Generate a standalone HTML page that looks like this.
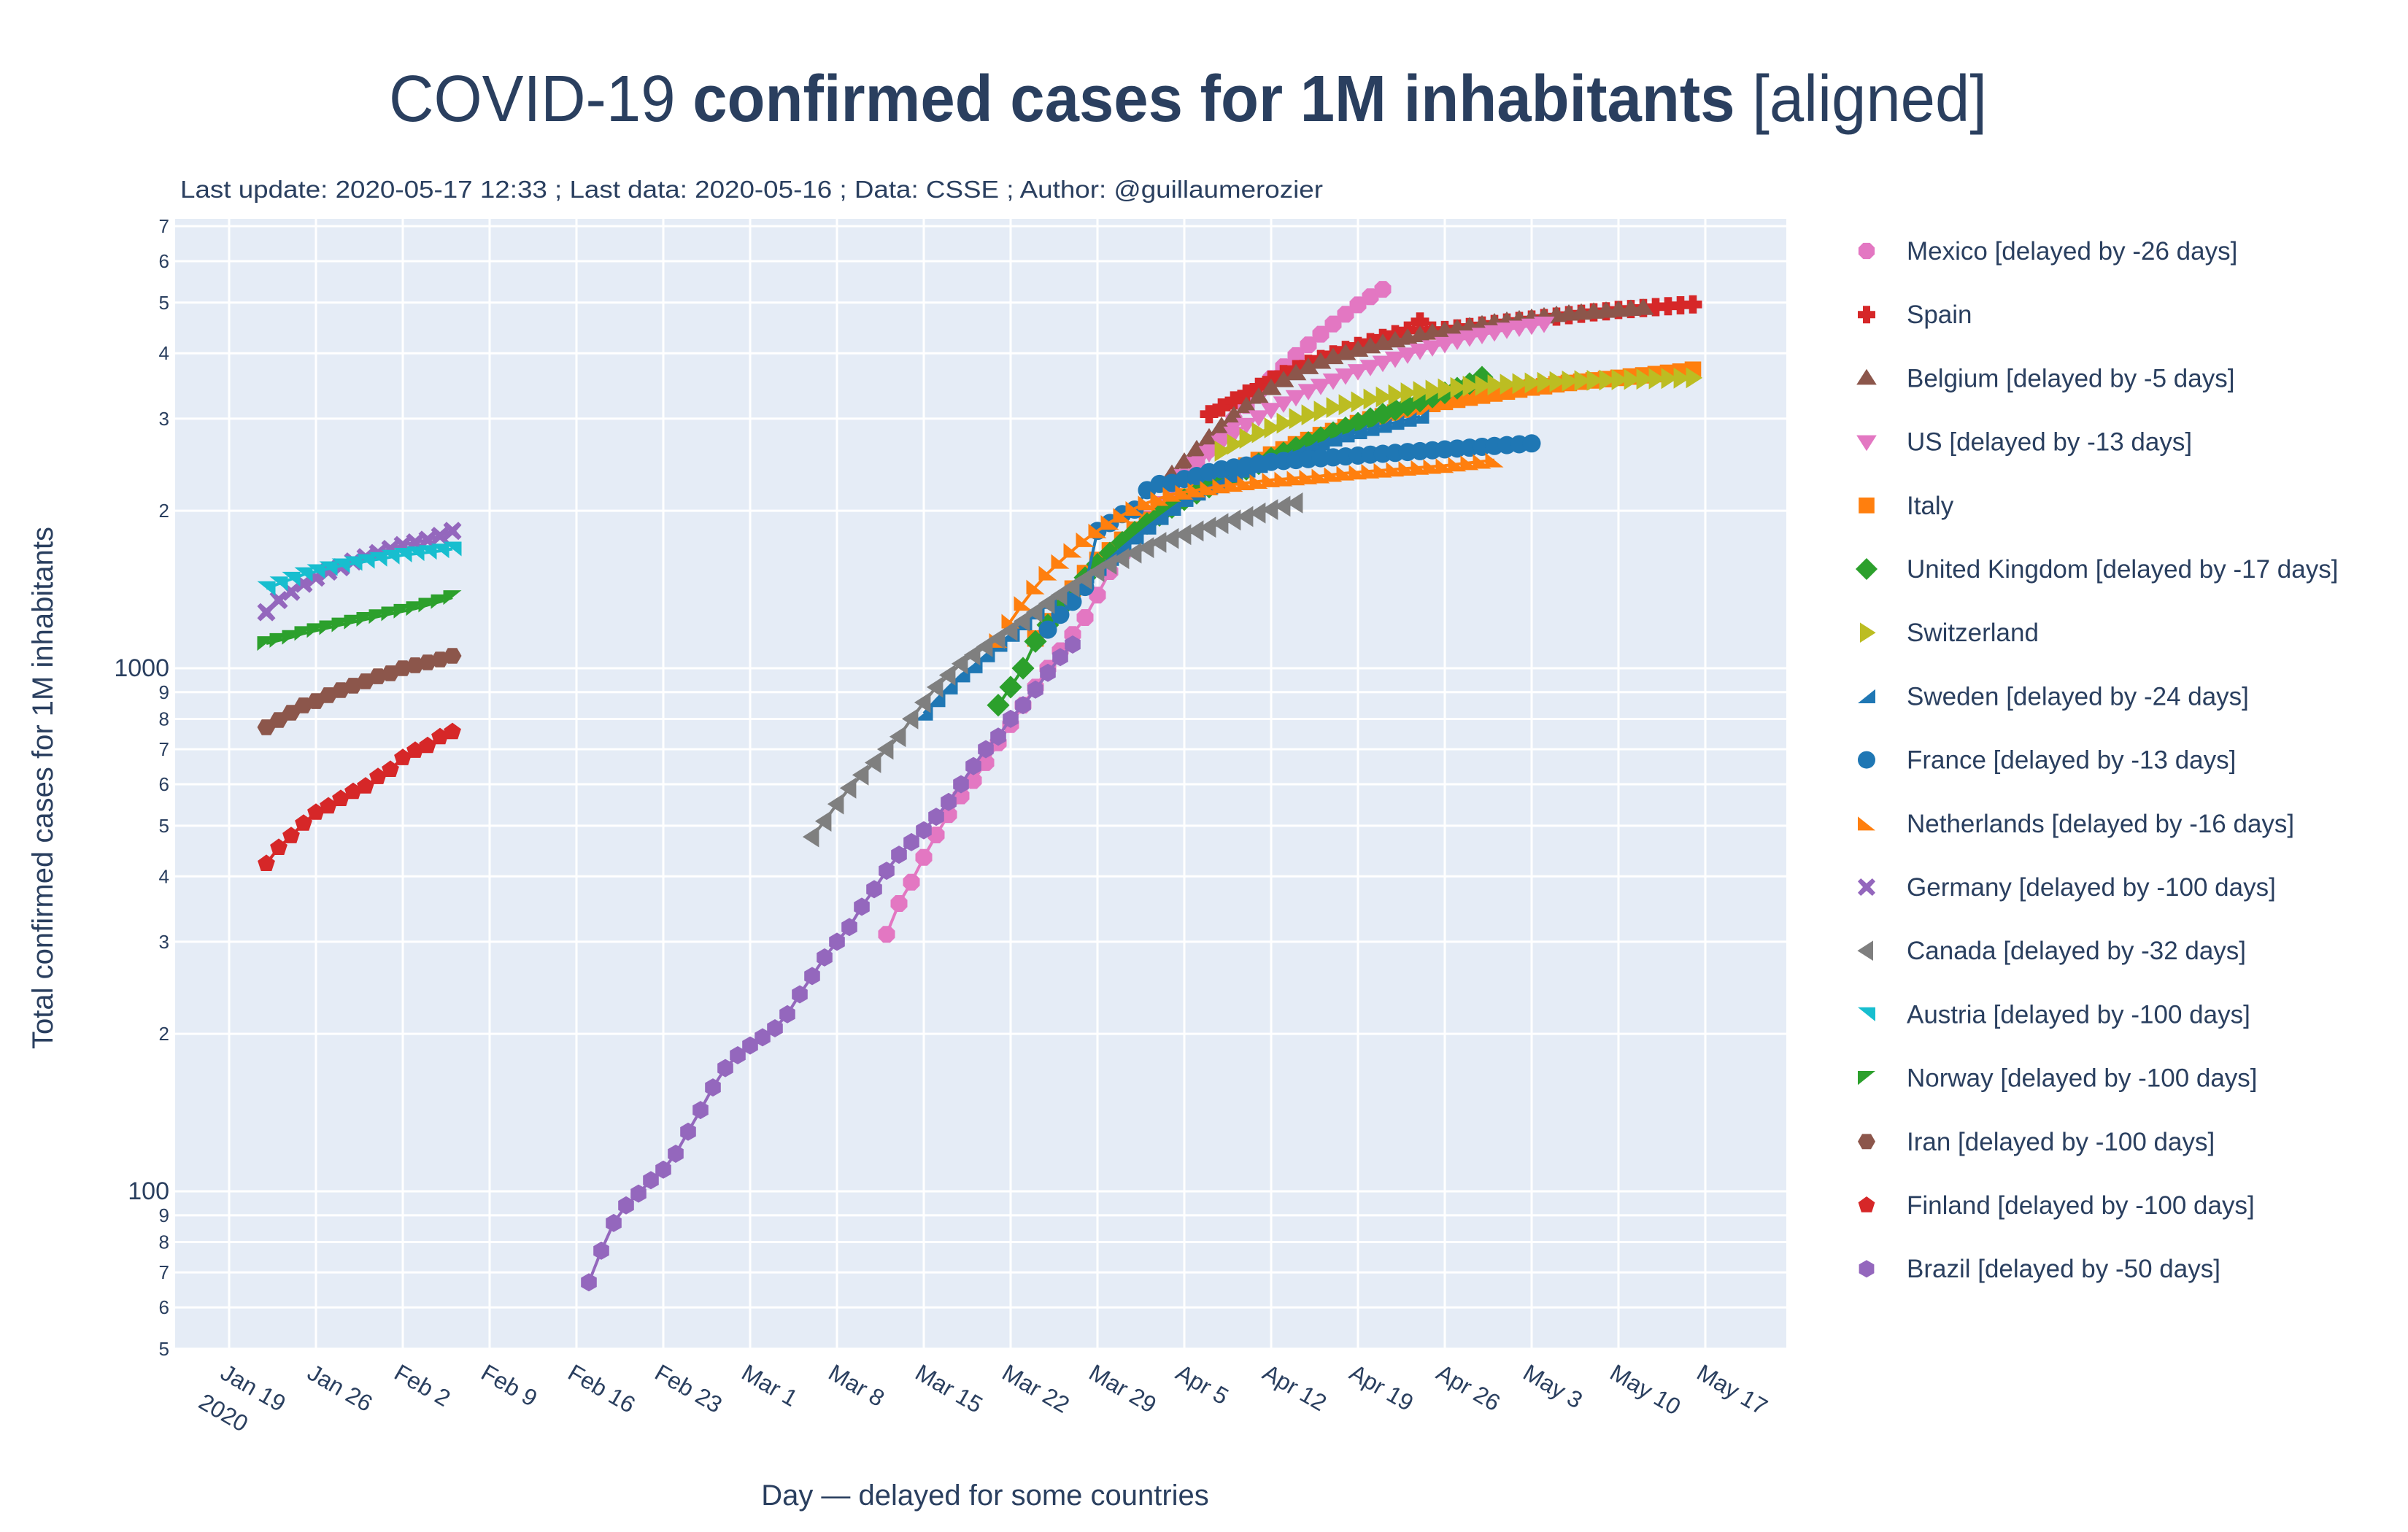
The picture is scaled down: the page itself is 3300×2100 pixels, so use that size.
<!DOCTYPE html>
<html><head><meta charset="utf-8"><title>COVID-19 confirmed cases for 1M inhabitants</title>
<style>
html,body{margin:0;padding:0;background:#fff;}
svg{display:block;font-family:"Liberation Sans",sans-serif;}
</style></head>
<body>
<svg id="chart" width="3300" height="2100" viewBox="0 0 3300 2100" xmlns="http://www.w3.org/2000/svg">
  <rect x="0" y="0" width="3300" height="2100" fill="#ffffff"/>
  <text x="1628" y="166" text-anchor="middle" font-size="90" fill="#2a3f5f" textLength="2190" lengthAdjust="spacingAndGlyphs">COVID-19 <tspan font-weight="bold">confirmed cases for 1M inhabitants</tspan> [aligned]</text>
  <text x="247" y="271" font-size="33" fill="#2a3f5f" textLength="1566" lengthAdjust="spacingAndGlyphs">Last update: 2020-05-17 12:33 ; Last data: 2020-05-16 ; Data: CSSE ; Author: @guillaumerozier</text>
  <rect x="240" y="300" width="2208" height="1550" fill="#e5ecf6"/>
  <g id="grid"></g>
  <g id="yticks"></g>
  <g id="xticks"></g>
  <defs><clipPath id="clip"><rect x="240" y="300" width="2208" height="1550"/></clipPath></defs>
  <g id="series" clip-path="url(#clip)"></g>
  <text transform="translate(72,1080) rotate(-90)" text-anchor="middle" font-size="40" fill="#2a3f5f">Total confirmed cases  for 1M inhabitants</text>
  <text x="1350" y="2063" text-anchor="middle" font-size="40" fill="#2a3f5f">Day — delayed for some countries</text>
  <g id="legend"></g>
</svg>
<script>
// ---------- data ----------
const countryNames = ["Mexico [delayed by -26 days]","Spain","Belgium [delayed by -5 days]","US [delayed by -13 days]","Italy","United Kingdom [delayed by -17 days]","Switzerland","Sweden [delayed by -24 days]","France [delayed by -13 days]","Netherlands [delayed by -16 days]","Germany [delayed by -100 days]","Canada [delayed by -32 days]","Austria [delayed by -100 days]","Norway [delayed by -100 days]","Iran [delayed by -100 days]","Finland [delayed by -100 days]","Brazil [delayed by -50 days]"];
const startDates = ["2020-03-12","2020-04-07","2020-04-04","2020-04-03","2020-03-24","2020-03-21","2020-04-08","2020-03-15","2020-03-25","2020-03-21","2020-01-22","2020-03-06","2020-01-22","2020-01-22","2020-01-22","2020-01-22","2020-02-17"];
const mexicoValues = [310,355,390,435,480,525,570,610,660,720,780,850,920,1000,1080,1160,1250,1380,1530,1650,1800,1930,2050,2180,2320,2470,2620,2800,2990,3180,3380,3580,3770,3960,4150,4350,4550,4750,4950,5130,5300];
const spainValues = [3060,3150,3250,3350,3450,3560,3650,3730,3820,3900,3980,4060,4130,4200,4280,4350,4420,4600,4420,4430,4460,4490,4520,4550,4580,4610,4640,4670,4700,4730,4760,4790,4810,4840,4860,4880,4900,4920,4940,4960];
const belgiumValues = [2350,2480,2620,2760,2900,3040,3170,3300,3430,3550,3660,3760,3850,3930,4000,4060,4120,4180,4230,4280,4330,4380,4420,4460,4500,4540,4580,4610,4640,4670,4700,4730,4760,4780,4800,4820,4840,4860,4880];
const usValues = [2070,2200,2330,2460,2580,2700,2810,2920,3020,3120,3210,3300,3390,3470,3550,3630,3700,3770,3840,3910,3980,4050,4110,4170,4230,4290,4340,4390,4440,4480,4520,4560];
const italyValues = [1140,1230,1320,1420,1520,1610,1680,1760,1840,1920,1990,2060,2130,2190,2250,2320,2380,2440,2500,2560,2620,2680,2730,2790,2840,2890,2940,2990,3030,3080,3120,3160,3200,3230,3260,3290,3320,3350,3380,3410,3440,3460,3490,3510,3530,3550,3570,3590,3610,3630,3650,3670,3690,3720];
const ukValues = [850,920,1000,1125,1210,1300,1400,1490,1580,1660,1740,1820,1890,1960,2030,2100,2160,2220,2280,2340,2400,2460,2520,2580,2640,2700,2760,2820,2880,2940,3000,3060,3120,3180,3240,3300,3360,3430,3500,3600];
const switzerlandValues = [2600,2680,2750,2820,2880,2940,3000,3050,3100,3150,3190,3230,3270,3300,3330,3360,3380,3400,3420,3440,3460,3470,3480,3490,3500,3510,3520,3530,3540,3545,3550,3555,3560,3565,3570,3575,3580,3585,3590];
const swedenValues = [820,870,920,970,1010,1060,1110,1160,1220,1280,1340,1400,1450,1500,1550,1620,1700,1780,1860,1940,2020,2100,2160,2220,2280,2340,2390,2440,2490,2540,2590,2640,2690,2740,2790,2830,2870,2910,2950,2990,3030];
const franceValues = [1185,1265,1340,1430,1830,1895,1970,2010,2190,2250,2260,2300,2330,2370,2400,2420,2440,2460,2480,2490,2500,2510,2520,2530,2540,2550,2560,2570,2580,2590,2600,2610,2620,2630,2640,2650,2660,2670,2680,2690];
const netherlandsValues = [1130,1230,1330,1430,1520,1600,1680,1760,1830,1900,1960,2020,2070,2110,2150,2170,2190,2210,2230,2245,2260,2275,2290,2300,2310,2320,2330,2345,2360,2370,2380,2390,2400,2410,2420,2430,2440,2455,2470,2485,2500];
const germanyValues = [1280,1350,1400,1450,1490,1530,1560,1600,1630,1660,1690,1720,1740,1760,1790,1830];
const canadaValues = [476,510,550,590,625,660,700,740,800,860,920,970,1020,1060,1100,1140,1180,1230,1280,1330,1380,1430,1480,1530,1580,1620,1660,1700,1740,1770,1800,1830,1860,1890,1920,1950,1980,2010,2040,2070];
const austriaValues = [1420,1450,1480,1510,1530,1550,1570,1585,1600,1615,1630,1645,1655,1665,1675,1690];
const norwayValues = [1115,1130,1145,1165,1180,1195,1210,1225,1240,1255,1270,1285,1300,1320,1340,1365];
const iranValues = [771,796,822,849,865,888,908,926,944,965,978,1000,1013,1026,1039,1056];
const finlandValues = [423,454,478,505,530,545,563,581,595,620,640,674,696,711,739,756];
const brazilValues = [67,77,87,94,99,105,110,118,130,143,158,172,182,190,197,205,218,238,258,280,300,320,350,378,410,440,465,490,520,555,600,650,700,740,800,850,910,980,1050,1110];
const yTickValues = [50,60,70,80,90,100,200,300,400,500,600,700,800,900,1000,2000,3000,4000,5000,6000,7000];
const yTickLabels = ["5","6","7","8","9","100","2","3","4","5","6","7","8","9","1000","2","3","4","5","6","7"];
const xTickDates = ["2020-01-19","2020-01-26","2020-02-02","2020-02-09","2020-02-16","2020-02-23","2020-03-01","2020-03-08","2020-03-15","2020-03-22","2020-03-29","2020-04-05","2020-04-12","2020-04-19","2020-04-26","2020-05-03","2020-05-10","2020-05-17"];
const xTickLabels = ["Jan 19","Jan 26","Feb 2","Feb 9","Feb 16","Feb 23","Mar 1","Mar 8","Mar 15","Mar 22","Mar 29","Apr 5","Apr 12","Apr 19","Apr 26","May 3","May 10","May 17"];

const seriesValues = [mexicoValues,spainValues,belgiumValues,usValues,italyValues,ukValues,switzerlandValues,swedenValues,franceValues,netherlandsValues,germanyValues,canadaValues,austriaValues,norwayValues,iranValues,finlandValues,brazilValues];
const colors = ["#e377c2","#d62728","#8c564b","#e377c2","#ff7f0e","#2ca02c","#bcbd22","#1f77b4","#1f77b4","#ff7f0e","#9467bd","#7f7f7f","#17becf","#2ca02c","#8c564b","#d62728","#9467bd"];
const symbols = ["octagon","cross","tri-up","tri-down","square","diamond","tri-right","tri-se","circle","tri-sw","x","tri-left","tri-ne","tri-nw","hexagon","pentagon","hexagon2"];
const slugs = ["mexico","spain","belgium","us","italy","united-kingdom","switzerland","sweden","france","netherlands","germany","canada","austria","norway","iran","finland","brazil"];

// ---------- axes ----------
const NS = "http://www.w3.org/2000/svg";
const PL = 240, PR = 2448, PT = 300, PB = 1850;
const X0 = Date.UTC(2020,0,19), X0PX = 314, PXDAY = 17.0;
const LOGMIN = 1.6974, LOGMAX = 3.859;
function dayOf(s){ const p = s.split("-"); return (Date.UTC(+p[0],+p[1]-1,+p[2]) - X0)/86400000; }
function xScale(day){ return X0PX + day*PXDAY; }
function yScale(v){ return PB - (Math.log10(v)-LOGMIN)/(LOGMAX-LOGMIN)*(PB-PT); }
function mk(tag, attrs){ const e = document.createElementNS(NS, tag); for (const k in attrs) e.setAttribute(k, attrs[k]); return e; }

const grid = document.getElementById("grid");
const yt = document.getElementById("yticks");
yTickValues.forEach((v,i)=>{
  const y = yScale(v);
  const l = mk("line",{x1:PL,x2:PR,y1:y,y2:y,stroke:"#ffffff","stroke-width":3});
  
  
  grid.appendChild(l);
  const big = yTickLabels[i].length > 1;
  const t = mk("text",{x:232,y:y+(big?11:9),"text-anchor":"end","font-size":big?34:26,fill:"#2a3f5f"});
  t.textContent = yTickLabels[i];
  
  
  yt.appendChild(t);
});
const xt = document.getElementById("xticks");
xTickDates.forEach((d,i)=>{
  const x = xScale(dayOf(d));
  const l = mk("line",{x1:x,x2:x,y1:PT,y2:PB,stroke:"#ffffff","stroke-width":3});
  
  
  grid.appendChild(l);
  const t = mk("text",{transform:"translate("+(x-14)+",1888) rotate(30)","font-size":32,fill:"#2a3f5f"});
  t.textContent = xTickLabels[i];
  
  
  xt.appendChild(t);
  if (i === 0) {
    const t2 = mk("text",{transform:"translate("+(x-44)+",1928) rotate(30)","font-size":32,fill:"#2a3f5f"});
    t2.textContent = "2020";
    
    
    xt.appendChild(t2);
  }
});

// ---------- markers ----------
function poly(pts){ return "M" + pts.map(p=>p[0].toFixed(1)+","+p[1].toFixed(1)).join("L") + "Z"; }
function regular(n, r, rot){ const a=[]; for(let k=0;k<n;k++){ const t=rot+k*2*Math.PI/n; a.push([r*Math.cos(t), r*Math.sin(t)]); } return a; }
function markerPath(sym, r){
  switch(sym){
    case "octagon": return poly(regular(8,r,Math.PI/8));
    case "cross": { const w=r*0.42; return poly([[-w,-r],[w,-r],[w,-w],[r,-w],[r,w],[w,w],[w,r],[-w,r],[-w,w],[-r,w],[-r,-w],[-w,-w]]); }
    case "tri-up": return poly([[0,-r*1.05],[r*1.15,r*0.75],[-r*1.15,r*0.75]]);
    case "tri-down": return poly([[0,r*1.05],[r*1.15,-r*0.75],[-r*1.15,-r*0.75]]);
    case "tri-left": return poly([[-r*1.05,0],[r*0.75,-r*1.15],[r*0.75,r*1.15]]);
    case "tri-right": return poly([[r*1.05,0],[-r*0.75,-r*1.15],[-r*0.75,r*1.15]]);
    case "tri-se": return poly([[-r,r*0.8],[r,r*0.8],[r,-r*0.8]]);
    case "tri-sw": return poly([[-r,-r*0.8],[-r,r*0.8],[r,r*0.8]]);
    case "tri-ne": return poly([[-r,-r*0.8],[r,-r*0.8],[r,r*0.8]]);
    case "tri-nw": return poly([[-r,r*0.8],[-r,-r*0.8],[r,-r*0.8]]);
    case "square": return poly([[-r*0.9,-r*0.9],[r*0.9,-r*0.9],[r*0.9,r*0.9],[-r*0.9,r*0.9]]);
    case "diamond": return poly([[0,-r*1.25],[r*1.25,0],[0,r*1.25],[-r*1.25,0]]);
    case "x": { const w=r*0.35; return poly([[-r+w,-r],[0,-w*1.2],[r-w,-r],[r,-r+w],[w*1.2,0],[r,r-w],[r-w,r],[0,w*1.2],[-r+w,r],[-r,r-w],[-w*1.2,0],[-r,-r+w]]); }
    case "hexagon": return poly(regular(6,r,0));
    case "hexagon2": return poly(regular(6,r,Math.PI/2));
    case "pentagon": return poly(regular(5,r,-Math.PI/2));
    default: return null;
  }
}
function addMarker(parent, sym, cx, cy, r, color){
  let e;
  if (sym === "circle") e = mk("circle",{cx:cx,cy:cy,r:r,fill:color});
  else e = mk("path",{d:markerPath(sym,r),transform:"translate("+cx.toFixed(1)+","+cy.toFixed(1)+")",fill:color});
  parent.appendChild(e);
  return e;
}

const sg = document.getElementById("series");
seriesValues.forEach((vals, si)=>{
  const g = mk("g",{});
  
  
  sg.appendChild(g);
  const d0 = dayOf(startDates[si]);
  const pts = vals.map((v,k)=>[xScale(d0+k), yScale(v)]);
  const line = mk("polyline",{points:pts.map(p=>p[0].toFixed(1)+","+p[1].toFixed(1)).join(" "),fill:"none",stroke:colors[si],"stroke-width":4});
  
  
  g.appendChild(line);
  pts.forEach(p=>{
    const m = addMarker(g, symbols[si], p[0], p[1], 12.5, colors[si]);
    
    
  });
});

// ---------- legend ----------
const lg = document.getElementById("legend");
countryNames.forEach((n, i)=>{
  const y = 344 + i*87.2;
  const g = mk("g",{});
  
  
  lg.appendChild(g);
  const m = addMarker(g, symbols[i], 2558, y, 12, colors[i]);
  
  
  const t = mk("text",{x:2613,y:y+12,"font-size":35,fill:"#2a3f5f"});
  t.textContent = n;
  
  
  g.appendChild(t);
});
</script>
</body></html>
